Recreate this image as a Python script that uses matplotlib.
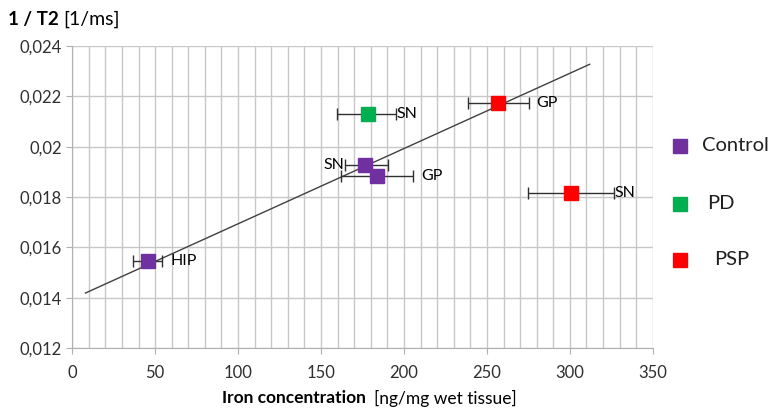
import matplotlib.pyplot as plt
from matplotlib.lines import Line2D

plt.rcParams['font.family'] = ['Lato', 'DejaVu Sans']

# data
groups = ['Control', 'PD', 'PSP']
colors = ['#7030A0', '#00B050', '#FF0000']

# region label, group, iron concentration (+ error bar ends), 1/T2
labels = ['HIP', 'SN', 'GP', 'SN', 'GP', 'SN']
group_of = ['Control', 'Control', 'Control', 'PD', 'PSP', 'PSP']
iron = [45.8, 176.5, 183.5, 178.1, 256.8, 300.4]
iron_lo = [36.7, 164.5, 161.9, 159.4, 238.4, 274.9]
iron_hi = [54.2, 190.4, 205.4, 195.0, 275.5, 326.7]
r2 = [0.01546, 0.01927, 0.01883, 0.02130, 0.02175, 0.01815]

fit_x = [8, 312]
fit_y = [0.01419, 0.02328]

yticks = [0.012, 0.014, 0.016, 0.018, 0.020, 0.022, 0.024]
ytick_labels = ['0,012', '0,014', '0,016', '0,018', '0,02', '0,022', '0,024']
xticks = [0, 50, 100, 150, 200, 250, 300, 350]

fig = plt.figure(figsize=(7.68, 4.12), dpi=100)
ax = fig.add_axes([0.094, 0.155, 0.756, 0.733])

ax.plot(fit_x, fit_y, color='#404040', lw=1, zorder=2)

col = dict(zip(groups, colors))
for i in range(len(iron)):
    xerr = [[iron[i] - iron_lo[i]], [iron_hi[i] - iron[i]]]
    ax.errorbar(iron[i], r2[i], xerr=xerr, fmt='none', ecolor='#303030',
                elinewidth=1, capsize=4, capthick=1, zorder=3)
    ax.plot(iron[i], r2[i], 's', ms=10, color=col[group_of[i]], zorder=4)

# region labels
fs = 11.5
ax.text(iron_hi[0] + 5, r2[0], labels[0], va='center', ha='left', fontsize=fs)
ax.text(iron_lo[1] - 0.5, r2[1], labels[1], va='center', ha='right', fontsize=fs)
ax.text(iron_hi[2] + 5, r2[2], labels[2], va='center', ha='left', fontsize=fs)
ax.text(iron_hi[3] + 0.5, r2[3], labels[3], va='center', ha='left', fontsize=fs)
ax.text(iron_hi[4] + 4, r2[4], labels[4], va='center', ha='left', fontsize=fs)
ax.text(iron_hi[5] + 0.5, r2[5], labels[5], va='center', ha='left', fontsize=fs)

ax.set_xlim(0, 350)
ax.set_ylim(0.012, 0.024)
ax.set_xticks(xticks)
ax.set_xticks(range(0, 351, 10), minor=True)
ax.set_yticks(yticks)
ax.set_yticklabels(ytick_labels)
ax.grid(True, which='both', color='#c8c8c8', lw=1)
ax.set_axisbelow(True)
ax.tick_params(axis='x', which='minor', length=0)
ax.tick_params(axis='both', which='major', length=4, color='#b0b0b0',
               labelsize=12, colors='#303030')
ax.tick_params(axis='x', pad=8)
for s in ['top', 'right']:
    ax.spines[s].set_visible(False)
for s in ['left', 'bottom']:
    ax.spines[s].set_color('#b0b0b0')

# axis titles
fig.text(0.010, 0.953, '1 / T2', fontsize=13.5, fontweight='bold', va='center')
fig.text(0.083, 0.953, '[1/ms]', fontsize=14, va='center')
fig.text(0.477, 0.033, 'Iron concentration', fontsize=12.5, fontweight='bold',
         va='center', ha='right')
fig.text(0.487, 0.033, '[ng/mg wet tissue]', fontsize=12.5, va='center', ha='left')

# legend
leg_y = [0.646, 0.505, 0.369]
leg_tx = [0.914, 0.921, 0.930]
for g, c, y, tx in zip(groups, colors, leg_y, leg_tx):
    fig.add_artist(Line2D([0.885], [y], marker='s', ms=10, color=c, ls='none'))
    fig.text(tx, y, g, fontsize=14.5, va='center', ha='left', color='#202020')

fig.savefig('out.png', dpi=100)
